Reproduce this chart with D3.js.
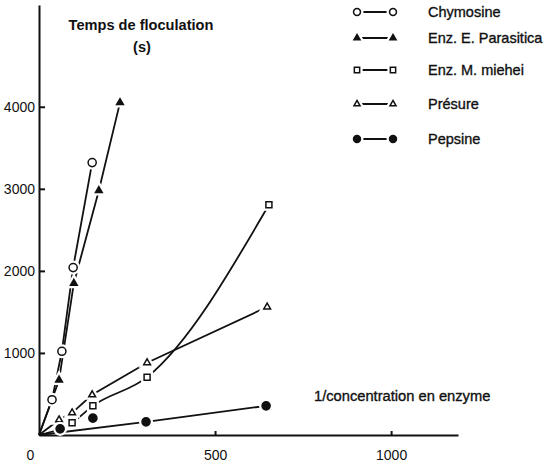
<!DOCTYPE html>
<html>
<head>
<meta charset="utf-8">
<script src="https://cdn.jsdelivr.net/npm/d3@7"></script>
<style>
body{margin:0;background:#fff;}
text{font-family:"Liberation Sans",Arial,sans-serif;fill:#111;}
</style>
</head>
<body>
<div id="chart"></div>
<script>
// values
var seriesNames = ["Chymosine","Enz. E. Parasitica","Enz. M. miehei","Présure","Pepsine"];
var chymosineX = [37,65,97,151],          chymosineY = [430,1020,2040,3320];
var parasiticaX = [57,99,170,230],        parasiticaY = [670,1850,2980,4050];
var mieheiX = [94,153,307,653],           mieheiY = [150,355,705,2805];
var presureX = [57,94,151,307,648],       presureY = [185,270,490,880,1560];
var pepsineX = [60,153,304,645],          pepsineY = [75,205,160,355];
var xTicks = [0,500,1000];
var yTicks = [1000,2000,3000,4000];

var W=550,H=468;
var svg=d3.select("#chart").append("svg").attr("width",W).attr("height",H);

var x=d3.scaleLinear().domain([0,1190]).range([39,458]);
var y=d3.scaleLinear().domain([0,5240]).range([435,5]);

// axes
var gx=svg.append("g").attr("transform","translate(0,"+y(0)+")")
	.call(d3.axisBottom(x).tickValues(xTicks).tickFormat(d3.format("d")).tickSizeInner(-4).tickSizeOuter(0).tickPadding(15));
var gy=svg.append("g").attr("transform","translate("+x(0)+",0)")
	.call(d3.axisLeft(y).tickValues(yTicks).tickFormat(d3.format("d")).tickSizeInner(-6).tickSizeOuter(0).tickPadding(4));
[gx,gy].forEach(function(g){
	g.select(".domain").attr("stroke","#111").attr("stroke-width",2);
	g.selectAll(".tick line").attr("stroke","#111").attr("stroke-width",2);
	g.selectAll(".tick text").attr("font-size",14).attr("fill","#111").style("font-family","Liberation Sans, Arial, sans-serif");
});
gx.selectAll(".tick text").filter(function(d){return d===0;}).attr("x",-9);
gx.selectAll(".tick line").filter(function(d){return d===0;}).remove();

svg.append("text").attr("x",141).attr("y",30).attr("text-anchor","middle")
	.attr("font-size",14.6).attr("font-weight","bold").text("Temps de floculation");
svg.append("text").attr("x",142).attr("y",52).attr("text-anchor","middle")
	.attr("font-size",14.6).attr("font-weight","bold").text("(s)");
svg.append("text").attr("x",314).attr("y",401)
	.attr("font-size",14.7).attr("stroke","#111").attr("stroke-width",0.35).text("1/concentration en enzyme");

function pts(xs,ys){return xs.map(function(v,i){return [v,ys[i]];});}
var series=[
	{name:seriesNames[0],data:pts(chymosineX,chymosineY),shape:"circle",fill:false,curve:d3.curveLinear},
	{name:seriesNames[1],data:pts(parasiticaX,parasiticaY),shape:"triangle",fill:true,curve:d3.curveLinear},
	{name:seriesNames[2],data:pts(mieheiX,mieheiY),shape:"square",fill:false,curve:d3.curveMonotoneX},
	{name:seriesNames[3],data:pts(presureX,presureY),shape:"triangle",fill:false,curve:d3.curveLinear},
	{name:seriesNames[4],data:pts(pepsineX,pepsineY),shape:"circle",fill:true,curve:d3.curveLinear,fit:true}
];

var symPlot={
	circle:d3.symbol().type(d3.symbolCircle).size(52),
	triangle:d3.symbol().type(d3.symbolTriangle).size(20),
	square:d3.symbol().type(d3.symbolSquare).size(36)
};
var symLeg={
	circle:d3.symbol().type(d3.symbolCircle).size(38),
	triangle:d3.symbol().type(d3.symbolTriangle).size(16),
	square:d3.symbol().type(d3.symbolSquare).size(28)
};

function marker(g,s,cx,cy,sym){
	// white halo gives the broken-line look of the original
	g.append("path").attr("d",sym[s.shape]()).attr("transform","translate("+cx+","+cy+")")
		.attr("fill","#fff").attr("stroke","#fff").attr("stroke-width",6);
	g.append("path").attr("d",sym[s.shape]()).attr("transform","translate("+cx+","+cy+")")
		.attr("fill",s.fill?"#111":"#fff").attr("stroke","#111").attr("stroke-width",1.5);
}

var line=d3.line().x(function(d){return x(d[0]);}).y(function(d){return y(d[1]);});
series.forEach(function(s){
	var ld=[[0,0]].concat(s.fit ? s.data.slice(2) : s.data);
	svg.append("path").datum(ld).attr("d",line.curve(s.curve))
		.attr("fill","none").attr("stroke","#111").attr("stroke-width",1.8);
});
series.forEach(function(s){
	var g=svg.append("g");
	s.data.forEach(function(d){marker(g,s,x(d[0]),y(d[1]),symPlot);});
});

// legend
var legY=[12,38,70,104,139];
series.forEach(function(s,i){
	var g=svg.append("g");
	g.append("line").attr("x1",357).attr("x2",393).attr("y1",legY[i]).attr("y2",legY[i])
		.attr("stroke","#111").attr("stroke-width",1.8);
	marker(g,s,357,legY[i],symLeg);
	marker(g,s,393,legY[i],symLeg);
	g.append("text").attr("x",428).attr("y",legY[i]+5).attr("font-size",14.5)
		.attr("stroke","#111").attr("stroke-width",0.35).text(s.name);
});
</script>
</body>
</html>
